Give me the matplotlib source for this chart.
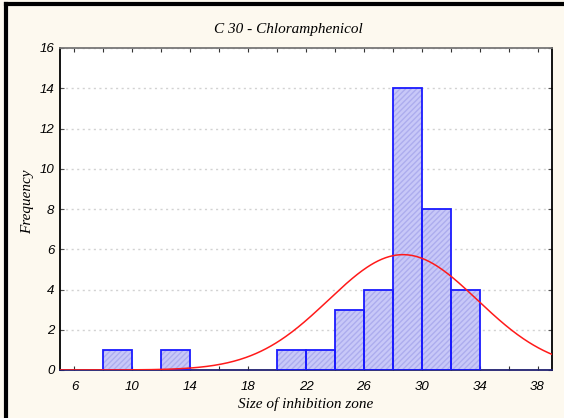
import matplotlib.pyplot as plt
import numpy as np
from matplotlib.lines import Line2D

# Histogram data: bin edges (width 2) and counts
bin_left = [8, 12, 20, 22, 24, 26, 28, 30, 32]
counts = [1, 1, 1, 1, 3, 4, 14, 8, 4]
bin_width = 2

# fitted normal curve parameters
fit_mean = 28.7
fit_sd = 5.15
n_total = sum(counts)

x_ticks = [6, 10, 14, 18, 22, 26, 30, 34, 38]
y_ticks = [0, 2, 4, 6, 8, 10, 12, 14, 16]

fig = plt.figure(figsize=(5.64, 4.18), dpi=100, facecolor='#fdf9ef')
ax = fig.add_axes([60/564, 48/418, 492/564, 322/418])
ax.set_facecolor('white')

# hatched fill, then crisp blue outline
ax.bar(bin_left, counts, width=bin_width, align='edge', color='#c8c8f8',
       edgecolor='#adadee', hatch='//////', linewidth=0, zorder=2)
ax.bar(bin_left, counts, width=bin_width, align='edge', fill=False,
       edgecolor='#1a1aff', linewidth=1.3, zorder=3)

xs = np.linspace(5, 39, 400)
ys = n_total * bin_width / (fit_sd * np.sqrt(2 * np.pi)) * np.exp(-(xs - fit_mean) ** 2 / (2 * fit_sd ** 2))
ax.plot(xs, ys, color='#ff1a1a', linewidth=1.1, zorder=4)

ax.set_xlim(5, 39)
ax.set_ylim(0, 16)
ax.set_xticks(x_ticks)
ax.set_xticks(np.arange(6, 39, 2), minor=True)
ax.set_yticks(y_ticks)

tick_font = dict(family='Liberation Sans', style='italic', size=9.5)
ax.set_xticklabels([str(t) for t in x_ticks], fontdict=tick_font)
ax.set_yticklabels([str(t) for t in y_ticks], fontdict=tick_font)

ax.tick_params(axis='x', which='both', direction='in', length=3, top=True,
               width=0.8, color='#333333', pad=8)
ax.tick_params(axis='y', which='both', direction='in', length=3, right=True,
               width=0.8, color='#555555', pad=4)

ax.grid(axis='y', linestyle=(0, (1.5, 2.5)), color='#d2d2d2', linewidth=1.0, zorder=0)
ax.set_axisbelow(True)

ax.spines['left'].set_color('black')
ax.spines['right'].set_color('black')
ax.spines['top'].set_color('#777777')
ax.spines['bottom'].set_color('#202070')
for s in ax.spines.values():
    s.set_linewidth(1.3)

serif = dict(family='Liberation Serif', style='italic')
fig.text(0.5 + 6/564, 1 - 30/418, 'C 30 - Chloramphenicol', ha='center', va='center',
         fontsize=11, **serif)
fig.text(306/564, 1 - 404/418, 'Size of inhibition zone', ha='center', va='center',
         fontsize=11, **serif)
fig.text(28/564, 1 - 202/418, 'Frequency', ha='center', va='center',
         rotation=90, fontsize=11, **serif)

# frame lines on left and top of the figure
fig.add_artist(Line2D([6/564, 6/564], [0, 1 - 4/418], transform=fig.transFigure,
                      color='black', linewidth=3))
fig.add_artist(Line2D([6/564, 1], [1 - 4/418, 1 - 4/418], transform=fig.transFigure,
                      color='black', linewidth=3))

fig.savefig('out.png', dpi=100, facecolor=fig.get_facecolor())
